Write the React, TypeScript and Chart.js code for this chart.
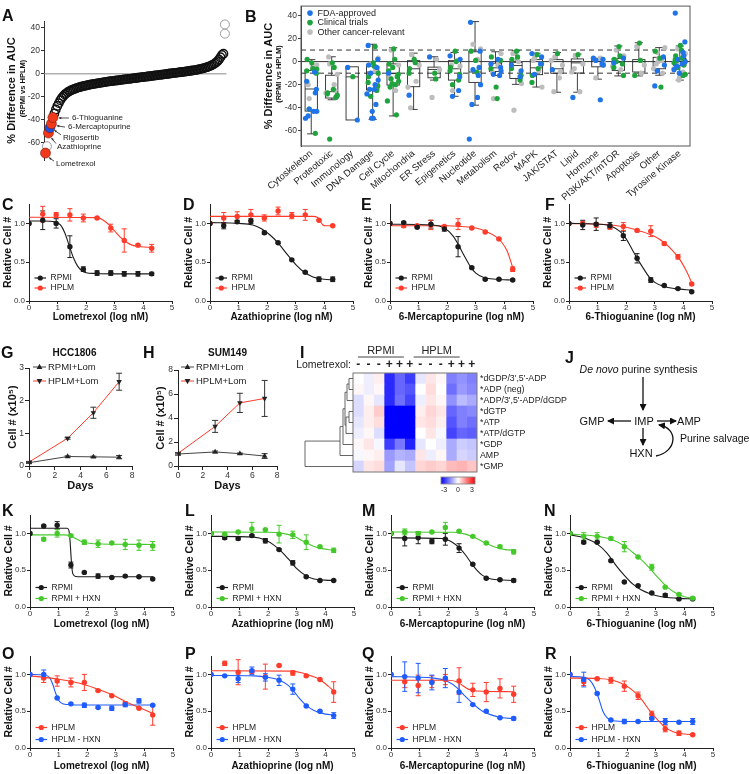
import React, { useEffect, useRef } from "react";
import { Chart, registerables } from "chart.js";

Chart.register(...registerables);

const FONT = "'Liberation Sans', Arial, Helvetica, sans-serif";
Chart.defaults.font.family = FONT;
Chart.defaults.color = "#222";

// ---------------- colours ----------------
const BLACK = "#1b1b1b";
const RED = "#ff3b2b";
const GREEN = "#45c92a";
const BLUE = "#1f5cff";
const B_BLUE = "#1f74e8";
const B_GREEN = "#1fa33c";
const B_GREY = "#bdbdbd";

// ---------------- Panel A data ----------------
const AUC_DIFF = [
  -69, -63, -51.5, -47, -43.5, -38, -34.5, -31, -28, -25.5, -23, -21, -19.5, -18, -17, -16, -15.2, -14.5, -13.9, -13.4,
  -12.9, -12.4, -12, -11.6, -11.2, -10.9, -10.6, -10.3, -10, -9.7, -9.4, -9.1, -8.9, -8.7, -8.5, -8.3, -8.1, -7.8, -7.6, -7.4,
  -7.2, -7.0, -6.8, -6.6, -6.4, -6.3, -6.1, -5.9, -5.8, -5.6, -5.4, -5.3, -5.1, -4.9, -4.8, -4.6, -4.4, -4.3, -4.1, -3.9,
  -3.8, -3.6, -3.4, -3.3, -3.1, -2.9, -2.8, -2.6, -2.4, -2.3, -2.1, -1.9, -1.8, -1.6, -1.4, -1.3, -1.1, -0.9, -0.8, -0.6,
  -0.4, -0.3, -0.1, 0.1, 0.3, 0.4, 0.6, 0.8, 0.9, 1.1, 1.3, 1.4, 1.6, 1.8, 1.9, 2.1, 2.3, 2.5, 2.7, 2.9,
  3.1, 3.3, 3.5, 3.8, 4.1, 4.4, 4.7, 5.0, 5.4, 5.8, 6.3, 6.8, 7.4, 8.1, 8.9, 9.8, 11, 12.5, 14.5, 16.5, 17.5,
];
const AUC_OUTLIERS = [35, 43];
const A_GREY_INDEX = [1];
const A_TICKS = [-60, -40, -20, 0, 20, 40];
const A_HIGHLIGHTS = [
  { name: "Lometrexol", index: 0, color: "#f0391c" },
  { name: "Azathioprine", index: 2, color: "#f0391c" },
  { name: "Rigosertib", index: 3, color: "#2050e0" },
  { name: "6-Mercaptopurine", index: 4, color: "#f0391c" },
  { name: "6-Thioguanine", index: 5, color: "#f0391c" },
];
// label placement (pixels relative to the point)
const A_LABEL_LAYOUT = [
  { dx: 10.5, dy: 11, tx: 8.5, ty: 8, hx: 3.5, hy: 4.5 },
  { dx: 8.5, dy: 14, tx: 7.5, ty: 10.5, hx: 3, hy: 5 },
  { dx: 13, dy: 10, tx: 11, ty: 7, hx: 4.5, hy: 2.5 },
  { dx: 16.6, dy: 3.3, tx: 13.6, ty: 3.3, hx: 5.5, hy: 2 },
  { dx: 19, dy: 0.5, tx: 16, ty: 0.5, hx: 6, hy: 0.5 },
];

// ---------------- Panel B data ----------------
const B_CATEGORIES = [
  "Cytoskeleton", "Proteotoxic", "Immunology", "DNA Damage", "Cell Cycle", "Mitochondria", "ER Stress",
  "Epigenetics", "Nucleotide", "Metabolism", "Redox", "MAPK", "JAK/STAT", "Lipid", "Hormone",
  "PI3K/AKT/mTOR", "Apoptosis", "Other", "Tyrosine Kinase",
];
const B_MAX = [1.7, 4.2, -4.5, 15, 12, 7.3, 4.2, 7.9, 34.6, 8.5, 9.3, 7.3, 7.9, 6.5, 2.8, 13.5, 16.3, 12.1, 13.5];
const B_Q3 = [-7.6, -11.8, -4.5, -4.2, -2, 0.8, -4.8, 0.8, 8.5, -1.4, -0.6, 1.7, 1.7, 2.3, 2.3, 2.8, 1.7, 3.7, 2.8];
const B_MEDIAN = [-23.7, -26, -13.2, -9, -10.4, -6.2, -6.8, -6.2, -9, -5.4, -3.4, -5.4, -6.2, -1.1, 0.3, -0.6, 0, 0, 0.3];
const B_Q1 = [-42.8, -31.5, -50.5, -24.5, -20.3, -21.7, -14, -16, -18, -8.5, -14.6, -11.3, -10.1, -9.9, -4.5, -7.6, -9, -6.2, -3.4];
const B_MIN = [-62.5, -33, -50.5, -50, -47, -41.4, -16, -30, -37.7, -12, -19.7, -22, -26.5, -26.5, -15.2, -12.4, -12.4, -11.8, -16];
const B_FDA = [
  [-17, -24, -27, -41, -43, -43, -47, -49, -9],
  [],
  [-5, -50.5],
  [14, 2, -5, -10, -16, -20, -24, -28, -37, -43, -49, -49, -24, -3],
  [-10],
  [-29],
  [4],
  [5, -13, -25, -30, 2],
  [34, 9, -5, -7, -20, -31, -37, -67, -12],
  [-2, -5, -12, -11, -8, 2],
  [-3, -8, -13],
  [7, 4, -2, -11],
  [-7],
  [-31],
  [3, 2, -2, 1, -3, -33],
  [-1, 3],
  [],
  [-21, -3, 4, -8],
  [42, 17, 5, 2, 0, -2, -4, -7, 8, -10],
];
const B_CLINICAL = [
  [-1, -6, 2, -8, -10, -62, -41, -6.5],
  [-1, -24, -27, -28, -30, -31, -67, -29, -5],
  [-13],
  [-1, -4, -13, -18, -21, -25, -30, -10, 13],
  [11, 2, -2, -8, -11, -13, -15, -17, -20, -22, -34, -46, -5, -19],
  [2, -1, -6, -10],
  [-10, -15],
  [9, 0, -5, -8, -11, -16, -20],
  [1, -9, 9],
  [-22, -32, 4, -6, 1],
  [9, 4, 2, -6, -12, -16],
  [6, -6, -12, -18, -2],
  [7],
  [6],
  [],
  [13, 5, 2, -5, -12, -2, 0],
  [16, 1, -12],
  [3, -22, 9],
  [14, 10, 5, 2, 0, -3, -5, -11, 3, 1, -1, -12],
];
const B_OTHER = [
  [-32, -3, -5, -20],
  [-2, -11, -20, 4, -27, -25],
  [],
  [-2, 3, -8],
  [10, -3, -25, -14],
  [6, -3, -17, -40, -22],
  [-31, -7, 2],
  [-25, -4, 1, -3],
  [15, 11, 2],
  [-32, 7, -3, -9],
  [-42, -19, 0, 7],
  [3, -22, -8, 1],
  [4, -3, -14, -26, 1, -9],
  [5, -2, -26, -6, -9],
  [-14, -1, 3, 2],
  [10, 5, -7, 1, -4],
  [13, -3, -10],
  [8, 12, 1, -2, -6, -10, 3, 0],
  [11, 7, 4, -1, -6, -9, -14, -16],
];
const B_TICKS = [-60, -40, -20, 0, 20, 40];
const B_LEGEND = [
  { label: "FDA-approved", color: B_BLUE },
  { label: "Clinical trials", color: B_GREEN },
  { label: "Other cancer-relevant", color: B_GREY },
];
// horizontal jitter pattern (layout only)
const JITTER = [-0.22, 0.12, -0.05, 0.25, -0.15, 0.03, 0.2, -0.28, 0.08, -0.1, 0.16, -0.2, 0.27, -0.02];

// ---------------- dose-response data ----------------
const DOSES = [0, 0.48, 0.95, 1.43, 1.9, 2.38, 2.86, 3.33, 3.81, 4.29];
const DOSE_X_TICKS = [0, 1, 2, 3, 4, 5];
const DOSE_Y_TICKS = [0, 0.5, 1];

const C_RPMI = [1.0, 1.04, 1.0, 0.7, 0.41, 0.36, 0.36, 0.35, 0.35, 0.35];
const C_RPMI_ERR = [0, 0.12, 0.06, 0.14, 0.03, 0.03, 0.03, 0.03, 0.03, 0.02];
const C_RPMI_FIT = [[0, 1.03], [0.5, 1.03], [0.9, 1.02], [1.1, 0.98], [1.25, 0.88], [1.4, 0.72], [1.55, 0.56], [1.7, 0.45], [1.85, 0.39], [2.0, 0.365], [2.3, 0.355], [3, 0.35], [4.3, 0.35]];
const C_HPLM = [1.0, 1.12, 1.11, 1.11, 1.07, 1.07, 0.94, 0.78, 0.72, 0.68];
const C_HPLM_ERR = [0, 0.1, 0.03, 0.08, 0.05, 0.01, 0.05, 0.15, 0.01, 0.05];
const C_HPLM_FIT = [[0, 1.08], [2.4, 1.075], [2.6, 1.04], [2.8, 0.98], [3.0, 0.9], [3.2, 0.82], [3.4, 0.76], [3.6, 0.72], [3.9, 0.7], [4.3, 0.69]];

const D_RPMI = [1.0, 0.97, 1.02, 1.03, 0.88, 0.75, 0.53, 0.37, 0.28, 0.28];
const D_RPMI_ERR = [0, 0.04, 0.02, 0.03, 0.02, 0.01, 0.01, 0.01, 0.03, 0.03];
const D_RPMI_FIT = [[0, 1.01], [1, 1.0], [1.5, 0.98], [1.8, 0.93], [2.1, 0.85], [2.4, 0.74], [2.7, 0.6], [3.0, 0.47], [3.3, 0.37], [3.6, 0.31], [4.0, 0.28], [4.3, 0.27]];
const D_HPLM = [1.0, 1.07, 1.09, 1.11, 1.07, 1.16, 1.1, 1.11, 1.04, 0.97];
const D_HPLM_ERR = [0, 0.07, 0.06, 0.07, 0.04, 0.05, 0.04, 0.07, 0.01, 0.01];
const D_HPLM_FIT = [[0, 1.09], [3.6, 1.09], [3.75, 1.08], [3.85, 1.03], [3.95, 0.98], [4.05, 0.97], [4.3, 0.97]];

const E_RPMI = [1.0, 1.01, 0.95, 0.99, 0.93, 0.7, 0.43, 0.28, 0.28, 0.27];
const E_RPMI_ERR = [0, 0.01, 0.01, 0.05, 0.03, 0.13, 0.01, 0.01, 0.01, 0.01];
const E_RPMI_FIT = [[0, 0.99], [1.5, 0.98], [1.9, 0.94], [2.2, 0.84], [2.4, 0.72], [2.6, 0.58], [2.8, 0.45], [3.0, 0.36], [3.3, 0.3], [3.7, 0.28], [4.3, 0.27]];
const E_HPLM = [1.0, 0.97, 0.97, 0.98, 0.96, 0.99, 0.94, 0.89, 0.8, 0.41];
const E_HPLM_ERR = [0, 0.02, 0.01, 0.06, 0.01, 0.07, 0.01, 0.01, 0.01, 0.03];
const E_HPLM_FIT = [[0, 0.97], [2, 0.97], [2.5, 0.96], [3, 0.94], [3.4, 0.89], [3.7, 0.83], [3.9, 0.76], [4.1, 0.64], [4.3, 0.42]];

const F_RPMI = [1.0, 0.98, 0.99, 0.97, 0.84, 0.55, 0.27, 0.2, 0.16, 0.12];
const F_RPMI_ERR = [0, 0.06, 0.08, 0.04, 0.06, 0.06, 0.03, 0.01, 0.01, 0.01];
const F_RPMI_FIT = [[0, 1.0], [1, 0.99], [1.5, 0.96], [1.8, 0.89], [2.0, 0.8], [2.2, 0.67], [2.4, 0.54], [2.6, 0.42], [2.8, 0.31], [3.0, 0.24], [3.3, 0.19], [3.7, 0.16], [4.3, 0.14]];
const F_HPLM = [1.0, 1.0, 0.98, 0.95, 0.96, 0.91, 0.9, 0.74, 0.57, 0.22];
const F_HPLM_ERR = [0, 0.02, 0.03, 0.02, 0.05, 0.01, 0.07, 0.02, 0.03, 0.01];
const F_HPLM_FIT = [[0, 1.0], [1.5, 0.98], [2, 0.95], [2.5, 0.9], [3, 0.83], [3.3, 0.76], [3.6, 0.66], [3.9, 0.52], [4.1, 0.39], [4.3, 0.23]];

const K_RPMI = [1.0, 1.1, 1.11, 0.57, 0.47, 0.42, 0.4, 0.42, 0.41, 0.38];
const K_RPMI_ERR = [0, 0.01, 0.05, 0.04, 0.01, 0.03, 0.01, 0.01, 0.01, 0.01];
const K_RPMI_FIT = [[0, 1.07], [1.3, 1.07], [1.36, 1.04], [1.4, 0.9], [1.43, 0.72], [1.46, 0.55], [1.5, 0.45], [1.6, 0.415], [2, 0.41], [4.3, 0.41]];
const K_HXN = [1.0, 0.92, 1.0, 0.97, 0.88, 0.86, 0.87, 0.85, 0.84, 0.83];
const K_HXN_ERR = [0, 0.02, 0.05, 0.01, 0.03, 0.05, 0.01, 0.07, 0.07, 0.06];
const K_HXN_FIT = [[0, 0.98], [1.2, 0.98], [1.4, 0.97], [1.6, 0.93], [1.8, 0.89], [2.0, 0.87], [2.5, 0.855], [4.3, 0.85]];

const L_RPMI = [1.0, 0.94, 0.93, 0.97, 0.9, 0.78, 0.6, 0.41, 0.36, 0.36];
const L_RPMI_ERR = [0, 0.02, 0.02, 0.01, 0.03, 0.01, 0.03, 0.01, 0.01, 0.01];
const L_RPMI_FIT = [[0, 0.96], [1.5, 0.95], [1.9, 0.91], [2.2, 0.84], [2.5, 0.74], [2.8, 0.61], [3.0, 0.52], [3.3, 0.43], [3.6, 0.38], [4.0, 0.365], [4.3, 0.36]];
const L_HXN = [1.0, 0.99, 1.02, 1.06, 1.05, 0.99, 0.98, 0.88, 0.82, 0.77];
const L_HXN_ERR = [0, 0.01, 0.01, 0.09, 0.01, 0.12, 0.05, 0.1, 0.01, 0.03];
const L_HXN_FIT = [[0, 1.02], [2, 1.015], [2.5, 1.0], [2.9, 0.96], [3.2, 0.9], [3.5, 0.84], [3.8, 0.8], [4.3, 0.77]];

const M_RPMI = [1.0, 0.93, 0.94, 0.89, 0.92, 0.8, 0.58, 0.39, 0.37, 0.36];
const M_RPMI_ERR = [0, 0.1, 0.08, 0.03, 0.08, 0.06, 0.01, 0.01, 0.01, 0.02];
const M_RPMI_FIT = [[0, 0.94], [1.8, 0.93], [2.1, 0.89], [2.4, 0.8], [2.6, 0.71], [2.8, 0.6], [3.0, 0.5], [3.2, 0.43], [3.5, 0.38], [4.3, 0.36]];
const M_HXN = [1.0, 1.02, 1.0, 1.02, 1.08, 1.03, 0.96, 0.87, 0.82, 0.75];
const M_HXN_ERR = [0, 0.04, 0.02, 0.01, 0.07, 0.01, 0.01, 0.01, 0.02, 0.03];
const M_HXN_FIT = [[0, 1.02], [2.2, 1.015], [2.6, 0.99], [3.0, 0.93], [3.3, 0.87], [3.6, 0.82], [4.0, 0.78], [4.3, 0.77]];

const N_RPMI = [1.0, 0.88, 0.88, 0.63, 0.34, 0.29, 0.19, 0.16, 0.11, 0.11];
const N_RPMI_ERR = [0, 0.02, 0.01, 0.01, 0.01, 0.01, 0.01, 0.02, 0.01, 0.01];
const N_RPMI_FIT = [[0, 0.98], [0.5, 0.94], [1.0, 0.84], [1.3, 0.73], [1.6, 0.57], [1.9, 0.43], [2.2, 0.31], [2.5, 0.23], [2.8, 0.18], [3.2, 0.14], [3.7, 0.12], [4.3, 0.11]];
const N_HXN = [1.0, 0.96, 0.96, 0.93, 0.82, 0.68, 0.54, 0.27, 0.17, 0.12];
const N_HXN_ERR = [0, 0.05, 0.05, 0.02, 0.07, 0.01, 0.04, 0.01, 0.01, 0.01];
const N_HXN_FIT = [[0, 0.99], [1.0, 0.96], [1.5, 0.91], [1.9, 0.83], [2.2, 0.74], [2.5, 0.64], [2.8, 0.52], [3.1, 0.39], [3.4, 0.27], [3.7, 0.19], [4.0, 0.14], [4.3, 0.12]];

const O_HPLM = [1.0, 0.95, 0.91, 0.89, 0.89, 0.78, 0.71, 0.6, 0.54, 0.45];
const O_HPLM_ERR = [0, 0.06, 0.07, 0.06, 0.11, 0.01, 0.01, 0.03, 0.01, 0.14];
const O_HPLM_FIT = [[0, 0.98], [0.5, 0.96], [1.0, 0.935], [1.5, 0.9], [2.0, 0.85], [2.5, 0.78], [3.0, 0.7], [3.5, 0.6], [4.0, 0.52], [4.3, 0.47]];
const O_HXN = [1.0, 1.0, 0.68, 0.6, 0.58, 0.55, 0.54, 0.59, 0.64, 0.58];
const O_HXN_ERR = [0, 0.06, 0.01, 0.01, 0.03, 0.01, 0.03, 0.03, 0.03, 0.01];
const O_HXN_FIT = [[0, 1.0], [0.5, 0.99], [0.7, 0.95], [0.8, 0.86], [0.9, 0.74], [1.0, 0.65], [1.1, 0.61], [1.3, 0.59], [1.6, 0.585], [4.3, 0.585]];

const P_HPLM = [1.0, 1.15, 1.03, 1.04, 0.97, 1.12, 1.02, 0.98, 0.93, 0.76];
const P_HPLM_ERR = [0, 0.03, 0.17, 0.02, 0.17, 0.01, 0.03, 0.01, 0.01, 0.14];
const P_HPLM_FIT = [[0, 1.05], [2.8, 1.045], [3.2, 1.02], [3.5, 0.98], [3.8, 0.93], [4.1, 0.84], [4.3, 0.77]];
const P_HXN = [1.0, 0.98, 0.94, 1.05, 0.96, 0.92, 0.8, 0.57, 0.5, 0.44];
const P_HXN_ERR = [0, 0.01, 0.05, 0.05, 0.05, 0.07, 0.07, 0.01, 0.01, 0.04];
const P_HXN_FIT = [[0, 0.985], [1.5, 0.98], [2.0, 0.96], [2.4, 0.92], [2.7, 0.85], [2.9, 0.77], [3.1, 0.67], [3.3, 0.59], [3.6, 0.51], [4.0, 0.46], [4.3, 0.45]];

const Q_HPLM = [1.0, 0.9, 0.85, 0.9, 0.93, 0.91, 0.79, 0.76, 0.81, 0.73];
const Q_HPLM_ERR = [0, 0.08, 0.14, 0.08, 0.07, 0.18, 0.09, 0.13, 0.13, 0.11];
const Q_HPLM_FIT = [[0, 0.92], [2.0, 0.92], [2.3, 0.9], [2.5, 0.85], [2.7, 0.8], [3.0, 0.775], [4.3, 0.765]];
const Q_HXN = [1.0, 0.97, 0.95, 0.89, 0.95, 0.76, 0.59, 0.5, 0.41, 0.4];
const Q_HXN_ERR = [0, 0.2, 0.2, 0.1, 0.13, 0.14, 0.01, 0.01, 0.01, 0.02];
const Q_HXN_FIT = [[0, 0.97], [1.5, 0.95], [2.0, 0.9], [2.3, 0.82], [2.6, 0.7], [2.9, 0.59], [3.2, 0.5], [3.5, 0.45], [3.9, 0.41], [4.3, 0.4]];

const R_HPLM = [1.0, 0.9, 0.94, 0.92, 0.84, 0.71, 0.46, 0.26, 0.2, 0.18];
const R_HPLM_ERR = [0, 0.05, 0.01, 0.04, 0.07, 0.05, 0.04, 0.04, 0.03, 0.01];
const R_HPLM_FIT = [[0, 0.95], [1.0, 0.945], [1.5, 0.92], [1.9, 0.86], [2.2, 0.78], [2.5, 0.66], [2.8, 0.5], [3.0, 0.41], [3.3, 0.29], [3.6, 0.22], [4.0, 0.19], [4.3, 0.18]];
const R_HXN = [1.0, 0.93, 0.74, 0.38, 0.36, 0.36, 0.4, 0.36, 0.35, 0.36];
const R_HXN_ERR = [0, 0.1, 0.01, 0.01, 0.03, 0.01, 0.01, 0.04, 0.01, 0.04];
const R_HXN_FIT = [[0, 0.97], [0.5, 0.96], [0.7, 0.92], [0.85, 0.83], [1.0, 0.68], [1.15, 0.5], [1.3, 0.41], [1.5, 0.37], [2, 0.36], [4.3, 0.36]];

// ---------------- growth (G, H) ----------------
const DAYS = [0, 3, 5, 7];
const G_RPMI = [0.1, 0.29, 0.28, 0.27];
const G_RPMI_ERR = [0.02, 0.02, 0.02, 0.05];
const G_HPLM = [0.12, 0.85, 1.63, 2.58];
const G_HPLM_ERR = [0.02, 0.03, 0.17, 0.26];
const H_RPMI = [1.0, 1.17, 1.03, 0.83];
const H_RPMI_ERR = [0.1, 0.08, 0.05, 0.2];
const H_HPLM = [1.05, 3.3, 5.26, 5.63];
const H_HPLM_ERR = [0.05, 0.5, 0.8, 1.5];

// ---------------- heatmap (I) ----------------
const I_METABOLITES = ["*dGDP/3',5'-ADP", "*ADP (neg)", "*ADP/3',5'-ADP/dGDP", "*dGTP", "*ATP", "*ATP/dGTP", "*GDP", "AMP", "*GMP"];
const I_SIGNS = ["-", "-", "-", "+", "+", "+", "-", "-", "-", "+", "+", "+"];
const I_VALUES = [
  [0.0, -0.2, 0.2, -2.5, -1.8, -2.3, -0.3, 0.3, 0.1, -1.5, -1.3, -1.5],
  [0.1, -0.2, 0.1, -2.5, -1.8, -2.0, 0.0, 0.4, 0.0, -1.7, -1.2, -1.4],
  [-0.4, 0.1, -0.3, -2.5, -1.7, -2.2, -0.2, 0.3, 0.1, -1.3, -0.8, -1.0],
  [-0.4, 0.2, 0.6, -3, -3, -3, 0.2, 0.5, 0.3, -1.8, -1.5, -1.4],
  [-0.3, 0.2, 0.4, -3, -3, -3, 0.3, 0.4, 0.2, -2.0, -1.5, -1.7],
  [-0.2, 0.1, -0.4, -3, -3, -3, 0.0, 0.3, -0.1, -2.2, -1.8, -1.9],
  [0.1, 0.3, -0.1, -2.3, -1.6, -2.6, -0.3, 0.0, -0.2, -1.0, -0.6, -0.7],
  [-0.1, 0.1, 0.2, -1.2, -0.9, -1.0, 0.3, -0.2, 0.1, -1.0, -0.5, -0.6],
  [-0.5, 0.3, 0.4, -1.1, -0.3, -0.7, 0.5, 0.6, 0.5, 0.8, 0.9, 0.7],
];
// dendrogram merges: [childA, childB, height]; leaves are rows 0..8
const I_DENDRO = [[0, 1, 4], [3, 4, 4], [9, 2, 6], [10, 5, 7], [11, 12, 8], [13, 6, 10], [14, 7, 13], [15, 8, 48]];

// ---------------- helpers ----------------
const common = {
  responsive: false,
  animation: false,
  events: [],
  plugins: { legend: { display: false }, tooltip: { enabled: false }, title: { display: false } },
};

const fixedTicks = (values: number[]) => (s: any) => {
  s.ticks = values.map((v) => ({ value: v }));
};

function seg(ctx: any, x1: number, y1: number, x2: number, y2: number) {
  ctx.beginPath();
  ctx.moveTo(x1, y1);
  ctx.lineTo(x2, y2);
  ctx.stroke();
}

function arrowTo(ctx: any, x1: number, y1: number, x2: number, y2: number, size = 3) {
  seg(ctx, x1, y1, x2, y2);
  const a = Math.atan2(y2 - y1, x2 - x1);
  ctx.beginPath();
  ctx.moveTo(x2, y2);
  ctx.lineTo(x2 - size * Math.cos(a - 0.45), y2 - size * Math.sin(a - 0.45));
  ctx.lineTo(x2 - size * Math.cos(a + 0.45), y2 - size * Math.sin(a + 0.45));
  ctx.closePath();
  ctx.fill();
}

function drawErrorBars(chart: any) {
  const { ctx, scales } = chart;
  const xs = scales.x;
  const ys = scales.y;
  chart.data.datasets.forEach((ds: any) => {
    if (!ds.errors) return;
    ctx.save();
    ctx.strokeStyle = ds.errColor || ds.borderColor;
    ctx.lineWidth = 1;
    const cap = ds.capHalf || 2.5;
    ds.data.forEach((p: any, i: number) => {
      const e = ds.errors[i];
      if (!e) return;
      const px = xs.getPixelForValue(p.x);
      const y1 = ys.getPixelForValue(p.y + e);
      const y2 = ys.getPixelForValue(p.y - e);
      seg(ctx, px, y1, px, y2);
      seg(ctx, px - cap, y1, px + cap, y1);
      seg(ctx, px - cap, y2, px + cap, y2);
    });
    ctx.restore();
  });
}

function drawRotated(ctx: any, text: string, x: number, y: number, font: string) {
  ctx.save();
  ctx.translate(x, y);
  ctx.rotate(-Math.PI / 2);
  ctx.font = font;
  ctx.fillStyle = "#111";
  ctx.textAlign = "center";
  ctx.textBaseline = "middle";
  ctx.fillText(text, 0, 0);
  ctx.restore();
}

function tri(ctx: any, x: number, y: number, r: number, down: boolean) {
  const s = down ? -1 : 1;
  ctx.beginPath();
  ctx.moveTo(x, y - s * r);
  ctx.lineTo(x + r * 0.9, y + s * r * 0.6);
  ctx.lineTo(x - r * 0.9, y + s * r * 0.6);
  ctx.closePath();
  ctx.fill();
}

// ---------------- Panel A ----------------
function makeA() {
  const excluded = new Set([...A_HIGHLIGHTS.map((h) => h.index), ...A_GREY_INDEX]);
  const main = AUC_DIFF.map((v, i) => ({ x: i, y: v })).filter((p) => !excluded.has(p.x));
  const greyPts = [
    ...A_GREY_INDEX.map((i) => ({ x: i, y: AUC_DIFF[i] })),
    ...AUC_OUTLIERS.map((v) => ({ x: AUC_DIFF.length, y: v })),
  ];
  const hi = A_HIGHLIGHTS.map((h) => ({ x: h.index, y: AUC_DIFF[h.index] }));
  return {
    type: "scatter",
    data: {
      datasets: [
        { data: hi, clip: false, pointRadius: 5, pointBackgroundColor: A_HIGHLIGHTS.map((h) => h.color), pointBorderColor: "#7a1a0a", pointBorderWidth: 0.6 },
        { data: main, clip: false, pointRadius: 4.2, pointBackgroundColor: "rgba(255,255,255,0)", pointBorderColor: "#111", pointBorderWidth: 1.4 },
        { data: greyPts, clip: false, pointRadius: 4.5, pointBackgroundColor: "#fff", pointBorderColor: "#9a9a9a", pointBorderWidth: 1 },
      ],
    },
    options: {
      ...common,
      layout: { padding: { top: 21, right: 5, bottom: 12, left: 0 } },
      scales: {
        x: { type: "linear", min: -1, max: 122, display: false },
        y: {
          type: "linear", min: -75, max: 46,
          afterBuildTicks: fixedTicks(A_TICKS),
          ticks: { font: { size: 8.5 }, color: "#333", padding: 1 },
          grid: { drawOnChartArea: false, tickLength: 3, color: "#333" },
          border: { color: "#333", width: 1 },
          title: { display: true, text: "% Difference in AUC", font: { size: 11, weight: "bold" }, color: "#111", padding: { top: 5.5, bottom: 0 } },
          afterFit: (s: any) => { s.width = 44; },
        },
      },
    },
    plugins: [
      {
        id: "a-extras",
        beforeDatasetsDraw(chart: any) {
          const { ctx, chartArea: ca, scales } = chart;
          const y0 = scales.y.getPixelForValue(0);
          ctx.save();
          ctx.strokeStyle = "#8a8a8a";
          ctx.lineWidth = 1;
          seg(ctx, ca.left, y0, ca.right, y0);
          ctx.restore();
        },
        afterDraw(chart: any) {
          const { ctx, chartArea: ca, scales } = chart;
          drawRotated(ctx, "(RPMI vs HPLM)", 23, (ca.top + ca.bottom) / 2 - 2, `bold 7.5px ${FONT}`);
          ctx.save();
          ctx.font = `8px ${FONT}`;
          ctx.fillStyle = "#222";
          ctx.strokeStyle = "#222";
          ctx.lineWidth = 0.8;
          ctx.textBaseline = "middle";
          A_HIGHLIGHTS.forEach((h, k) => {
            const L = A_LABEL_LAYOUT[k];
            const px = scales.x.getPixelForValue(h.index);
            const py = scales.y.getPixelForValue(AUC_DIFF[h.index]);
            ctx.fillText(h.name, px + L.dx, py + L.dy);
            arrowTo(ctx, px + L.tx, py + L.ty, px + L.hx, py + L.hy, 2.6);
          });
          ctx.restore();
        },
      },
    ],
  };
}

// ---------------- Panel B ----------------
function makeB() {
  const build = (groups: number[][], shift: number) => {
    const pts: any[] = [];
    groups.forEach((vals, i) => {
      vals.forEach((v, j) => {
        pts.push({ x: i + JITTER[(j * 3 + shift) % JITTER.length], y: v });
      });
    });
    return pts;
  };
  return {
    type: "scatter",
    data: {
      datasets: [
        { data: build(B_FDA, 0), pointRadius: 2.6, pointBackgroundColor: B_BLUE, pointBorderWidth: 0 },
        { data: build(B_CLINICAL, 5), pointRadius: 2.6, pointBackgroundColor: B_GREEN, pointBorderWidth: 0 },
        { data: build(B_OTHER, 9), pointRadius: 2.6, pointBackgroundColor: B_GREY, pointBorderWidth: 0 },
      ],
    },
    options: {
      ...common,
      layout: { padding: { top: 3, right: 10, bottom: 0, left: 0 } },
      scales: {
        x: {
          type: "linear", min: -0.5, max: 18.5,
          afterBuildTicks: fixedTicks(B_CATEGORIES.map((_, i) => i)),
          ticks: {
            autoSkip: false, minRotation: 40, maxRotation: 40,
            callback: (v: any) => B_CATEGORIES[Math.round(Number(v))],
            font: { size: 9.5 }, color: "#222", padding: 2,
          },
          grid: { display: false, drawTicks: false },
          border: { display: false },
          afterFit: (s: any) => { s.height = 64; },
        },
        y: {
          type: "linear", min: -73, max: 48,
          afterBuildTicks: fixedTicks(B_TICKS),
          ticks: { font: { size: 8.5 }, color: "#333", padding: 1 },
          grid: { drawOnChartArea: false, tickLength: 3, color: "#444" },
          border: { color: "#444", width: 1 },
          title: { display: true, text: "% Difference in AUC", font: { size: 11, weight: "bold" }, color: "#111", padding: { top: 1.5, bottom: 0 } },
          afterFit: (s: any) => { s.width = 40; },
        },
      },
    },
    plugins: [
      {
        id: "b-extras",
        beforeDatasetsDraw(chart: any) {
          const { ctx, chartArea: ca, scales } = chart;
          const { x, y } = scales;
          ctx.save();
          ctx.strokeStyle = "#333";
          ctx.lineWidth = 1;
          ctx.setLineDash([5, 4]);
          [10, -10].forEach((v) => {
            const py = y.getPixelForValue(v);
            seg(ctx, ca.left, py, ca.right, py);
          });
          ctx.setLineDash([]);
          const p0 = y.getPixelForValue(0);
          seg(ctx, ca.left, p0, ca.right, p0);
          const band = x.getPixelForValue(1) - x.getPixelForValue(0);
          const bw = band * 0.3;
          const cw = band * 0.2;
          ctx.lineWidth = 0.9;
          ctx.strokeStyle = "#2a2a2a";
          B_CATEGORIES.forEach((_, i) => {
            const cx = x.getPixelForValue(i);
            const yq1 = y.getPixelForValue(B_Q1[i]);
            const yq3 = y.getPixelForValue(B_Q3[i]);
            const ymed = y.getPixelForValue(B_MEDIAN[i]);
            const ymax = y.getPixelForValue(B_MAX[i]);
            const ymin = y.getPixelForValue(B_MIN[i]);
            ctx.strokeRect(cx - bw, yq3, bw * 2, yq1 - yq3);
            seg(ctx, cx - bw, ymed, cx + bw, ymed);
            if (B_MAX[i] > B_Q3[i]) {
              seg(ctx, cx, yq3, cx, ymax);
              seg(ctx, cx - cw, ymax, cx + cw, ymax);
            }
            if (B_MIN[i] < B_Q1[i]) {
              seg(ctx, cx, yq1, cx, ymin);
              seg(ctx, cx - cw, ymin, cx + cw, ymin);
            }
          });
          ctx.restore();
        },
        afterDraw(chart: any) {
          const { ctx, chartArea: ca } = chart;
          ctx.save();
          ctx.strokeStyle = "#555";
          ctx.lineWidth = 1;
          ctx.strokeRect(ca.left, ca.top, ca.right - ca.left, ca.bottom - ca.top);
          ctx.font = `9px ${FONT}`;
          ctx.textBaseline = "middle";
          B_LEGEND.forEach((it, k) => {
            const yy = ca.top + 7 + k * 9.5;
            ctx.fillStyle = it.color;
            ctx.beginPath();
            ctx.arc(ca.left + 9, yy, 2.8, 0, Math.PI * 2);
            ctx.fill();
            ctx.fillStyle = "#222";
            ctx.fillText(it.label, ca.left + 16.5, yy);
          });
          ctx.restore();
          drawRotated(ctx, "(RPMI vs HPLM)", 18, (ca.top + ca.bottom) / 2 - 2, `bold 7.5px ${FONT}`);
        },
      },
    ],
  };
}

// ---------------- dose-response panels ----------------
type Series = { label: string; color: string; mean: number[]; err: number[]; fit: number[][] };
type DoseSpec = { letter: string; xTitle: string; row: number; col: number; top: number; series: Series[] };

const DOSE_ROWS = [
  { top: 204, bottom: 301, legend: [-23, -13], titlePad: 3.5 },
  { top: 515, bottom: 607, legend: [-19.5, -8.5], titlePad: 2.5 },
  { top: 656, bottom: 748, legend: [-20.5, -8.5], titlePad: 2 },
];
const DOSE_COLS = [
  [29, 210, 390, 569],
  [30, 211, 391, 570],
  [30, 211, 391, 570],
];
const DOSE_AXIS_W = 29;
const DOSE_X_H = 26;
const DOSE_RIGHT = 7;
const DOSE_PLOT_W = 143;

const DOSE_PANELS: DoseSpec[] = [
  { letter: "C", xTitle: "Lometrexol (log nM)", row: 0, col: 0, top: 0, series: [
    { label: "RPMI", color: BLACK, mean: C_RPMI, err: C_RPMI_ERR, fit: C_RPMI_FIT },
    { label: "HPLM", color: RED, mean: C_HPLM, err: C_HPLM_ERR, fit: C_HPLM_FIT }] },
  { letter: "D", xTitle: "Azathioprine (log nM)", row: 0, col: 1, top: 0, series: [
    { label: "RPMI", color: BLACK, mean: D_RPMI, err: D_RPMI_ERR, fit: D_RPMI_FIT },
    { label: "HPLM", color: RED, mean: D_HPLM, err: D_HPLM_ERR, fit: D_HPLM_FIT }] },
  { letter: "E", xTitle: "6-Mercaptopurine (log nM)", row: 0, col: 2, top: 0, series: [
    { label: "RPMI", color: BLACK, mean: E_RPMI, err: E_RPMI_ERR, fit: E_RPMI_FIT },
    { label: "HPLM", color: RED, mean: E_HPLM, err: E_HPLM_ERR, fit: E_HPLM_FIT }] },
  { letter: "F", xTitle: "6-Thioguanine (log nM)", row: 0, col: 3, top: 0, series: [
    { label: "RPMI", color: BLACK, mean: F_RPMI, err: F_RPMI_ERR, fit: F_RPMI_FIT },
    { label: "HPLM", color: RED, mean: F_HPLM, err: F_HPLM_ERR, fit: F_HPLM_FIT }] },
  { letter: "K", xTitle: "Lometrexol (log nM)", row: 1, col: 0, top: 0, series: [
    { label: "RPMI", color: BLACK, mean: K_RPMI, err: K_RPMI_ERR, fit: K_RPMI_FIT },
    { label: "RPMI + HXN", color: GREEN, mean: K_HXN, err: K_HXN_ERR, fit: K_HXN_FIT }] },
  { letter: "L", xTitle: "Azathioprine (log nM)", row: 1, col: 1, top: 1, series: [
    { label: "RPMI", color: BLACK, mean: L_RPMI, err: L_RPMI_ERR, fit: L_RPMI_FIT },
    { label: "RPMI + HXN", color: GREEN, mean: L_HXN, err: L_HXN_ERR, fit: L_HXN_FIT }] },
  { letter: "M", xTitle: "6-Mercaptopurine (log nM)", row: 1, col: 2, top: 1, series: [
    { label: "RPMI", color: BLACK, mean: M_RPMI, err: M_RPMI_ERR, fit: M_RPMI_FIT },
    { label: "RPMI + HXN", color: GREEN, mean: M_HXN, err: M_HXN_ERR, fit: M_HXN_FIT }] },
  { letter: "N", xTitle: "6-Thioguanine (log nM)", row: 1, col: 3, top: 1, series: [
    { label: "RPMI", color: BLACK, mean: N_RPMI, err: N_RPMI_ERR, fit: N_RPMI_FIT },
    { label: "RPMI + HXN", color: GREEN, mean: N_HXN, err: N_HXN_ERR, fit: N_HXN_FIT }] },
  { letter: "O", xTitle: "Lometrexol (log nM)", row: 2, col: 0, top: 1, series: [
    { label: "HPLM", color: RED, mean: O_HPLM, err: O_HPLM_ERR, fit: O_HPLM_FIT },
    { label: "HPLM - HXN", color: BLUE, mean: O_HXN, err: O_HXN_ERR, fit: O_HXN_FIT }] },
  { letter: "P", xTitle: "Azathioprine (log nM)", row: 2, col: 1, top: 1, series: [
    { label: "HPLM", color: RED, mean: P_HPLM, err: P_HPLM_ERR, fit: P_HPLM_FIT },
    { label: "HPLM - HXN", color: BLUE, mean: P_HXN, err: P_HXN_ERR, fit: P_HXN_FIT }] },
  { letter: "Q", xTitle: "6-Mercaptopurine (log nM)", row: 2, col: 2, top: 1, series: [
    { label: "HPLM", color: RED, mean: Q_HPLM, err: Q_HPLM_ERR, fit: Q_HPLM_FIT },
    { label: "HPLM - HXN", color: BLUE, mean: Q_HXN, err: Q_HXN_ERR, fit: Q_HXN_FIT }] },
  { letter: "R", xTitle: "6-Thioguanine (log nM)", row: 2, col: 3, top: 1, series: [
    { label: "HPLM", color: RED, mean: R_HPLM, err: R_HPLM_ERR, fit: R_HPLM_FIT },
    { label: "HPLM - HXN", color: BLUE, mean: R_HXN, err: R_HXN_ERR, fit: R_HXN_FIT }] },
];

function doseBox(spec: DoseSpec) {
  const row = DOSE_ROWS[spec.row];
  const left = DOSE_COLS[spec.row][spec.col] - DOSE_AXIS_W;
  const top = row.top - 6;
  return { left, top, width: DOSE_AXIS_W + DOSE_PLOT_W + DOSE_RIGHT, height: row.bottom + DOSE_X_H - top };
}

function makeDose(spec: DoseSpec) {
  const row = DOSE_ROWS[spec.row];
  const datasets: any[] = [];
  spec.series.forEach((s, k) => {
    datasets.push({
      data: s.fit.map(([x, y]) => ({ x, y })), showLine: true, borderColor: s.color, borderWidth: 1.1,
      pointRadius: 0, cubicInterpolationMode: "monotone", order: 10 + k,
    });
    datasets.push({
      data: DOSES.map((x, i) => ({ x, y: s.mean[i] })), showLine: false, pointRadius: 2.7,
      pointBackgroundColor: s.color, pointBorderColor: s.color, borderColor: s.color, pointBorderWidth: 0,
      errors: s.err, order: spec.top === k ? 0 : 1,
    });
  });
  return {
    type: "scatter",
    data: { datasets },
    options: {
      ...common,
      layout: { padding: { top: 6, right: DOSE_RIGHT, left: 0, bottom: 0 } },
      scales: {
        x: {
          type: "linear", min: 0, max: 5,
          afterBuildTicks: fixedTicks(DOSE_X_TICKS),
          ticks: { font: { size: 8, lineHeight: 1 }, color: "#333", padding: -0.5, maxRotation: 0 },
          grid: { drawOnChartArea: false, tickLength: 3, color: "#222" },
          border: { color: "#222", width: 1 },
          title: { display: true, text: spec.xTitle, font: { size: 10, weight: "bold" }, color: "#111", padding: { top: 0, bottom: row.titlePad } },
          afterFit: (s: any) => { s.height = DOSE_X_H; },
        },
        y: {
          type: "linear", min: 0, max: 1.25,
          afterBuildTicks: fixedTicks(DOSE_Y_TICKS),
          ticks: { font: { size: 8 }, color: "#333", padding: 1, callback: (v: any) => Number(v).toFixed(1) },
          grid: { drawOnChartArea: false, tickLength: 3, color: "#222" },
          border: { color: "#222", width: 1 },
          title: { display: true, text: "Relative Cell #", font: { size: 10.5, weight: "bold" }, color: "#111", padding: { top: 1.7, bottom: 0 } },
          afterFit: (s: any) => { s.width = DOSE_AXIS_W; },
        },
      },
    },
    plugins: [
      {
        id: "dose-extras",
        beforeDatasetsDraw: (chart: any) => drawErrorBars(chart),
        afterDraw(chart: any) {
          const { ctx, chartArea: ca } = chart;
          ctx.save();
          ctx.font = `8.5px ${FONT}`;
          ctx.textBaseline = "middle";
          spec.series.forEach((s, k) => {
            const yy = ca.bottom + row.legend[k];
            const x0 = ca.left + 5.5;
            ctx.strokeStyle = s.color;
            ctx.lineWidth = 1.2;
            seg(ctx, x0, yy, x0 + 11.5, yy);
            ctx.fillStyle = s.color;
            ctx.beginPath();
            ctx.arc(x0 + 5.75, yy, 2.6, 0, Math.PI * 2);
            ctx.fill();
            ctx.fillStyle = "#222";
            ctx.fillText(s.label, x0 + 16, yy);
          });
          ctx.restore();
        },
      },
    ],
  };
}

// ---------------- growth panels ----------------
type GrowthSpec = {
  title: string; rpmi: number[]; rpmiErr: number[]; hplm: number[]; hplmErr: number[];
  yMax: number; yTicks: number[]; box: { left: number; top: number; width: number; height: number };
  area: { left: number; right: number; top: number; bottom: number }; titleX: number; yTitleCenter: number;
  legendX: number;
};

const GROWTH_PANELS: GrowthSpec[] = [
  {
    title: "HCC1806", rpmi: G_RPMI, rpmiErr: G_RPMI_ERR, hplm: G_HPLM, hplmErr: G_HPLM_ERR,
    yMax: 3, yTicks: [0, 1, 2, 3],
    box: { left: 0, top: 345, width: 142, height: 150 },
    area: { left: 29, right: 132, top: 368, bottom: 466 }, titleX: 74.5, yTitleCenter: 13, legendX: 33,
  },
  {
    title: "SUM149", rpmi: H_RPMI, rpmiErr: H_RPMI_ERR, hplm: H_HPLM, hplmErr: H_HPLM_ERR,
    yMax: 8, yTicks: [0, 2, 4, 6, 8],
    box: { left: 150, top: 345, width: 140, height: 150 },
    area: { left: 178, right: 277, top: 370, bottom: 466 }, titleX: 227.5, yTitleCenter: 161, legendX: 181,
  },
];

function makeGrowth(g: GrowthSpec) {
  const b = g.box;
  const yW = g.area.left - b.left;
  const xH = b.top + b.height - g.area.bottom;
  const titleCenter = 486;
  return {
    type: "scatter",
    data: {
      datasets: [
        {
          data: DAYS.map((d, i) => ({ x: d, y: g.hplm[i] })), showLine: true, borderColor: RED, borderWidth: 1,
          pointStyle: "triangle", pointRotation: 180, pointRadius: 3.2, pointBackgroundColor: "#222",
          pointBorderColor: "#222", pointBorderWidth: 0, errors: g.hplmErr, errColor: "#333", capHalf: 3,
        },
        {
          data: DAYS.map((d, i) => ({ x: d, y: g.rpmi[i] })), showLine: true, borderColor: "#444", borderWidth: 1,
          pointStyle: "triangle", pointRadius: 3.2, pointBackgroundColor: "#222",
          pointBorderColor: "#222", pointBorderWidth: 0, errors: g.rpmiErr, errColor: "#333", capHalf: 3,
        },
      ],
    },
    options: {
      ...common,
      layout: { padding: { top: g.area.top - b.top, right: b.left + b.width - g.area.right, left: 0, bottom: 0 } },
      scales: {
        x: {
          type: "linear", min: 0, max: 8,
          afterBuildTicks: fixedTicks([0, 2, 4, 6, 8]),
          ticks: { font: { size: 8.5, lineHeight: 1 }, color: "#333", padding: 1.5 },
          grid: { drawOnChartArea: false, tickLength: 4, color: "#222" },
          border: { color: "#222" },
          title: { display: true, text: "Days", font: { size: 11, weight: "bold" }, color: "#111", padding: { top: 0, bottom: b.top + b.height - titleCenter - 6.6 } },
          afterFit: (s: any) => { s.height = xH; },
        },
        y: {
          type: "linear", min: 0, max: g.yMax,
          afterBuildTicks: fixedTicks(g.yTicks),
          ticks: { font: { size: 8.5 }, color: "#333", padding: 1 },
          grid: { drawOnChartArea: false, tickLength: 4, color: "#222" },
          border: { color: "#222" },
          title: { display: true, text: "Cell # (x10⁵)", font: { size: 11, weight: "bold" }, color: "#111", padding: { top: g.yTitleCenter - b.left - 6.6, bottom: 0 } },
          afterFit: (s: any) => { s.width = yW; },
        },
      },
    },
    plugins: [
      {
        id: "growth-extras",
        beforeDatasetsDraw: (chart: any) => drawErrorBars(chart),
        afterDraw(chart: any) {
          const { ctx } = chart;
          ctx.save();
          ctx.font = `bold 10px ${FONT}`;
          ctx.fillStyle = "#111";
          ctx.textAlign = "center";
          ctx.textBaseline = "middle";
          ctx.fillText(g.title, g.titleX - b.left, 353 - b.top);
          ctx.textAlign = "left";
          ctx.font = `9.5px ${FONT}`;
          const items = [
            { label: "RPMI+Lom", color: "#444", down: false, y: 367 },
            { label: "HPLM+Lom", color: RED, down: true, y: 381 },
          ];
          items.forEach((it) => {
            const x0 = g.legendX - b.left;
            const yy = it.y - b.top;
            ctx.strokeStyle = it.color;
            ctx.lineWidth = 1;
            seg(ctx, x0, yy, x0 + 13, yy);
            ctx.fillStyle = "#222";
            tri(ctx, x0 + 6.5, yy, 3.2, it.down);
            ctx.fillStyle = "#222";
            ctx.fillText(it.label, x0 + 15, yy);
          });
          ctx.restore();
        },
      },
    ],
  };
}

// ---------------- heatmap ----------------
function heatColor(v: number) {
  const t = Math.max(-1, Math.min(1, v / 3));
  if (t < 0) {
    const c = Math.round(255 * (1 + t));
    return `rgb(${c},${c},255)`;
  }
  const c = Math.round(255 * (1 - t));
  return `rgb(255,${c},${c})`;
}

const I_BOX = { left: 290, top: 340, width: 320, height: 160 };

function makeHeat() {
  return {
    type: "bar",
    data: {
      labels: I_METABOLITES,
      datasets: I_SIGNS.map((_, c) => ({
        data: I_METABOLITES.map(() => 1),
        backgroundColor: I_VALUES.map((row) => heatColor(row[c])),
        borderWidth: 0, barPercentage: 1, categoryPercentage: 1,
      })),
    },
    options: {
      ...common,
      indexAxis: "y",
      layout: { padding: { left: 63, bottom: 28, top: 0, right: 0 } },
      scales: {
        x: {
          type: "linear", stacked: true, min: 0, max: 12, position: "top",
          afterBuildTicks: fixedTicks(I_SIGNS.map((_, i) => i + 0.5)),
          ticks: {
            autoSkip: false, minRotation: 0, maxRotation: 0,
            callback: (v: any) => I_SIGNS[Math.floor(Number(v))],
            font: { size: 12, weight: "bold", lineHeight: 1 }, color: "#222", padding: 2,
          },
          grid: { display: false, drawTicks: false },
          border: { display: false },
          afterFit: (s: any) => { s.height = 33; },
        },
        y: {
          stacked: true, position: "right",
          ticks: { font: { size: 8.8 }, color: "#222", padding: 3, autoSkip: false },
          grid: { display: false, drawTicks: false },
          border: { display: false },
          afterFit: (s: any) => { s.width = 133; },
        },
      },
    },
    plugins: [
      {
        id: "heat-extras",
        afterDraw(chart: any) {
          const { ctx, chartArea: ca, scales } = chart;
          const { x, y } = scales;
          ctx.save();
          ctx.strokeStyle = "#777";
          ctx.lineWidth = 1;
          ctx.strokeRect(ca.left, ca.top, ca.right - ca.left, ca.bottom - ca.top);
          // headers
          ctx.fillStyle = "#222";
          ctx.font = `10.5px ${FONT}`;
          ctx.textAlign = "right";
          ctx.textBaseline = "middle";
          ctx.fillText("Lometrexol:", ca.left - 2, ca.top - 8);
          ctx.textAlign = "center";
          ctx.font = `11px ${FONT}`;
          const groups = [{ t: "RPMI", c: 2.7 }, { t: "HPLM", c: 8.1 }];
          ctx.strokeStyle = "#444";
          groups.forEach((g) => {
            const cx = x.getPixelForValue(g.c);
            ctx.fillText(g.t, cx, ca.top - 22);
            seg(ctx, cx - 23, ca.top - 16, cx + 23, ca.top - 16);
          });
          // dendrogram
          ctx.strokeStyle = "#555";
          ctx.lineWidth = 0.9;
          const nodes: any[] = I_METABOLITES.map((_, i) => ({ x: ca.left, y: y.getPixelForValue(i) }));
          I_DENDRO.forEach(([a, b, h]) => {
            const xn = ca.left - h;
            const A = nodes[a];
            const B = nodes[b];
            seg(ctx, xn, A.y, xn, B.y);
            seg(ctx, xn, A.y, A.x, A.y);
            seg(ctx, xn, B.y, B.x, B.y);
            nodes.push({ x: xn, y: (A.y + B.y) / 2 });
          });
          // colour bar
          const bx = ca.right - 36;
          const by = ca.bottom + 5;
          const grad = ctx.createLinearGradient(bx, 0, bx + 34, 0);
          grad.addColorStop(0, heatColor(-3));
          grad.addColorStop(0.5, heatColor(0));
          grad.addColorStop(1, heatColor(3));
          ctx.fillStyle = grad;
          ctx.fillRect(bx, by, 34, 7);
          ctx.strokeStyle = "#888";
          ctx.strokeRect(bx, by, 34, 7);
          ctx.fillStyle = "#222";
          ctx.font = `7px ${FONT}`;
          ctx.fillText("-3", bx + 3, by + 13);
          ctx.fillText("0", bx + 17, by + 13);
          ctx.fillText("3", bx + 31, by + 13);
          ctx.restore();
        },
      },
    ],
  };
}

// ---------------- components ----------------
function ChartBox(props: { left: number; top: number; width: number; height: number; make: () => any }) {
  const ref = useRef<HTMLCanvasElement | null>(null);
  const { left, top, width, height, make } = props;
  useEffect(() => {
    if (!ref.current) return;
    const chart = new Chart(ref.current, make());
    return () => chart.destroy();
  }, []);
  return (
    <canvas
      ref={ref}
      width={width}
      height={height}
      style={{ position: "absolute", left, top, width, height }}
    />
  );
}

const LETTERS = [
  ["A", 3, 10], ["B", 246, 11], ["C", 3, 199], ["D", 184, 199], ["E", 362, 199], ["F", 546, 199],
  ["G", 2, 347], ["H", 144, 347], ["I", 301, 347], ["J", 566, 352],
  ["K", 3, 505], ["L", 186, 505], ["M", 363, 505], ["N", 545, 505],
  ["O", 3, 648], ["P", 186, 648], ["Q", 363, 648], ["R", 546, 648],
];

function PathwayJ() {
  const fs = 11;
  return (
    <svg width={750} height={774} style={{ position: "absolute", left: 0, top: 0, pointerEvents: "none" }}>
      <defs>
        <marker id="ah" markerWidth="7" markerHeight="7" refX="6" refY="3.5" orient="auto" markerUnits="userSpaceOnUse">
          <path d="M0,0 L7,3.5 L0,7 z" fill="#111" />
        </marker>
      </defs>
      <g fontFamily={FONT} fill="#111">
        <text x={638.5} y={369} textAnchor="middle" dominantBaseline="central" fontSize={10.5}>
          <tspan fontStyle="italic">De novo</tspan> purine synthesis
        </text>
        <text x={592} y={421} textAnchor="middle" dominantBaseline="central" fontSize={fs}>GMP</text>
        <text x={644} y={421} textAnchor="middle" dominantBaseline="central" fontSize={fs}>IMP</text>
        <text x={689} y={421} textAnchor="middle" dominantBaseline="central" fontSize={fs}>AMP</text>
        <text x={641} y={453} textAnchor="middle" dominantBaseline="central" fontSize={fs}>HXN</text>
        <text x={680} y={438} textAnchor="start" dominantBaseline="central" fontSize={10.5}>Purine salvage</text>
      </g>
      <g stroke="#111" strokeWidth={1.3} fill="none">
        <line x1={643} y1={377} x2={643} y2={410} markerEnd="url(#ah)" />
        <line x1={631} y1={421} x2={608} y2={421} markerEnd="url(#ah)" />
        <line x1={657} y1={421} x2={676} y2={421} markerEnd="url(#ah)" />
        <line x1={643} y1={428} x2={643} y2={445} markerEnd="url(#ah)" />
        <path d="M 656 456 C 677 452, 679 428, 659 425" markerEnd="url(#ah)" />
      </g>
    </svg>
  );
}

export default function App() {
  return (
    <div style={{ position: "absolute", left: 0, top: 0, width: 750, height: 774, background: "#fff", overflow: "hidden", fontFamily: FONT }}>
      <ChartBox left={0} top={0} width={232} height={172} make={makeA} />
      <ChartBox left={261} top={0} width={439} height={210} make={makeB} />
      {DOSE_PANELS.map((p) => {
        const b = doseBox(p);
        return <ChartBox key={p.letter} left={b.left} top={b.top} width={b.width} height={b.height} make={() => makeDose(p)} />;
      })}
      {GROWTH_PANELS.map((g) => (
        <ChartBox key={g.title} left={g.box.left} top={g.box.top} width={g.box.width} height={g.box.height} make={() => makeGrowth(g)} />
      ))}
      <ChartBox left={I_BOX.left} top={I_BOX.top} width={I_BOX.width} height={I_BOX.height} make={makeHeat} />
      <PathwayJ />
      {LETTERS.map(([t, x, y]) => (
        <div
          key={t as string}
          style={{ position: "absolute", left: (x as number) - 1, top: (y as number) - 2, fontSize: 16, lineHeight: "16px", fontWeight: "bold", color: "#111", fontFamily: FONT }}
        >
          {t}
        </div>
      ))}
    </div>
  );
}
